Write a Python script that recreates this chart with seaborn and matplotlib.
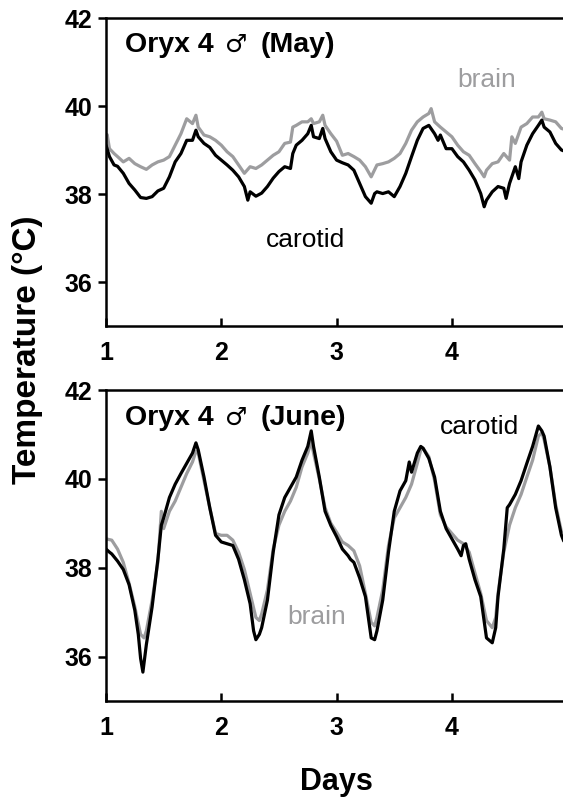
import numpy as np
import pandas as pd
import matplotlib
matplotlib.use("Agg")
import matplotlib.pyplot as plt
import matplotlib.transforms as mtransforms
import seaborn as sns

# ---------------- data ----------------
may_carotid_day = [1.00, 1.03, 1.07, 1.10, 1.15, 1.20, 1.25, 1.30, 1.35, 1.40, 1.45, 1.50, 1.55, 1.60,
                   1.65, 1.70, 1.75, 1.78, 1.80, 1.85, 1.90, 1.95, 2.00, 2.05, 2.10, 2.15, 2.20, 2.23,
                   2.25, 2.30, 2.35, 2.40, 2.45, 2.50, 2.55, 2.60, 2.62, 2.65, 2.70, 2.75, 2.78, 2.80,
                   2.85, 2.88, 2.90, 2.95, 3.00, 3.05, 3.10, 3.15, 3.20, 3.25, 3.30, 3.33, 3.35, 3.40,
                   3.45, 3.50, 3.55, 3.60, 3.65, 3.70, 3.75, 3.80, 3.85, 3.88, 3.90, 3.95, 4.00, 4.05,
                   4.10, 4.15, 4.20, 4.25, 4.28, 4.30, 4.35, 4.40, 4.45, 4.47, 4.50, 4.55, 4.58, 4.60,
                   4.65, 4.70, 4.75, 4.78, 4.80, 4.85, 4.90, 4.95, 5.00]
may_carotid_temp = [39.11, 38.85, 38.66, 38.63, 38.47, 38.24, 38.09, 37.92, 37.90, 37.94, 38.07, 38.13, 38.39, 38.73,
                    38.92, 39.22, 39.22, 39.45, 39.30, 39.15, 39.06, 38.88, 38.77, 38.66, 38.54, 38.39, 38.17, 37.86,
                    38.05, 37.95, 38.02, 38.17, 38.36, 38.51, 38.62, 38.58, 38.92, 39.11, 39.22, 39.37, 39.56, 39.30,
                    39.26, 39.49, 39.26, 38.96, 38.77, 38.71, 38.66, 38.54, 38.24, 37.94, 37.79, 38.01, 38.05, 38.01,
                    38.05, 37.94, 38.17, 38.47, 38.85, 39.22, 39.49, 39.56, 39.37, 39.22, 39.34, 39.03, 39.03, 38.85,
                    38.73, 38.54, 38.32, 38.01, 37.71, 37.86, 38.05, 38.17, 38.13, 37.90, 38.24, 38.62, 38.35, 38.73,
                    39.11, 39.37, 39.56, 39.68, 39.52, 39.41, 39.15, 39.00, 38.95]

may_brain_day = [1.00, 1.01, 1.03, 1.07, 1.10, 1.15, 1.20, 1.25, 1.30, 1.35, 1.40, 1.45, 1.50, 1.55, 1.60,
                 1.65, 1.70, 1.75, 1.78, 1.80, 1.85, 1.90, 1.95, 2.00, 2.05, 2.10, 2.15, 2.20, 2.25, 2.30,
                 2.35, 2.40, 2.45, 2.50, 2.55, 2.60, 2.62, 2.65, 2.70, 2.75, 2.78, 2.80, 2.85, 2.88, 2.90,
                 2.95, 3.00, 3.05, 3.10, 3.15, 3.20, 3.25, 3.30, 3.35, 3.40, 3.45, 3.50, 3.55, 3.60, 3.65,
                 3.70, 3.75, 3.80, 3.82, 3.85, 3.90, 3.95, 4.00, 4.05, 4.10, 4.15, 4.20, 4.25, 4.28, 4.30,
                 4.35, 4.40, 4.45, 4.50, 4.52, 4.55, 4.60, 4.65, 4.70, 4.75, 4.78, 4.80, 4.85, 4.90, 4.95, 5.00]
may_brain_temp = [39.22, 39.35, 39.03, 38.92, 38.85, 38.73, 38.81, 38.69, 38.62, 38.56, 38.66, 38.73, 38.77, 38.85, 39.11,
                  39.37, 39.71, 39.60, 39.79, 39.52, 39.34, 39.30, 39.22, 39.11, 38.96, 38.85, 38.66, 38.47, 38.62, 38.58,
                  38.66, 38.77, 38.88, 38.96, 39.15, 39.18, 39.52, 39.56, 39.64, 39.64, 39.71, 39.60, 39.64, 39.79, 39.56,
                  39.37, 39.20, 38.88, 38.92, 38.85, 38.77, 38.62, 38.39, 38.66, 38.69, 38.73, 38.81, 38.92, 39.15, 39.45,
                  39.64, 39.75, 39.83, 39.94, 39.64, 39.52, 39.41, 39.30, 39.11, 38.96, 38.88, 38.69, 38.51, 38.39, 38.54,
                  38.69, 38.73, 38.92, 38.77, 39.30, 39.15, 39.52, 39.60, 39.75, 39.75, 39.86, 39.71, 39.68, 39.64, 39.49, 39.45]

june_carotid_day = [1.00, 1.03, 1.05, 1.10, 1.15, 1.20, 1.25, 1.28, 1.30, 1.32, 1.35, 1.40, 1.45, 1.48, 1.50,
                    1.55, 1.60, 1.65, 1.70, 1.75, 1.78, 1.80, 1.85, 1.90, 1.95, 2.00, 2.05, 2.10, 2.15, 2.20,
                    2.25, 2.28, 2.30, 2.33, 2.35, 2.40, 2.45, 2.50, 2.55, 2.60, 2.65, 2.70, 2.75, 2.78, 2.80,
                    2.85, 2.90, 2.95, 3.00, 3.05, 3.10, 3.12, 3.15, 3.20, 3.25, 3.30, 3.33, 3.35, 3.40, 3.45,
                    3.50, 3.55, 3.60, 3.63, 3.65, 3.70, 3.73, 3.75, 3.80, 3.85, 3.90, 3.95, 4.00, 4.05, 4.08,
                    4.10, 4.12, 4.15, 4.20, 4.25, 4.30, 4.35, 4.38, 4.40, 4.45, 4.48, 4.50, 4.55, 4.60, 4.65,
                    4.70, 4.75, 4.78, 4.80, 4.85, 4.90, 4.95, 4.97]
june_carotid_temp = [38.42, 38.35, 38.31, 38.15, 37.96, 37.62, 37.04, 36.50, 35.96, 35.65, 36.27, 37.12, 38.19, 38.96, 39.12,
                     39.58, 39.88, 40.12, 40.35, 40.58, 40.81, 40.65, 40.04, 39.35, 38.73, 38.58, 38.54, 38.50, 38.19, 37.73,
                     37.19, 36.58, 36.38, 36.50, 36.65, 37.27, 38.35, 39.19, 39.58, 39.81, 40.04, 40.42, 40.73, 41.08, 40.73,
                     40.04, 39.27, 38.95, 38.70, 38.42, 38.27, 38.19, 38.12, 37.77, 37.35, 36.42, 36.38, 36.58, 37.27, 38.35,
                     39.27, 39.73, 39.96, 40.38, 40.15, 40.58, 40.73, 40.69, 40.46, 40.04, 39.27, 38.88, 38.65, 38.42, 38.27,
                     38.50, 38.54, 38.19, 37.73, 37.35, 36.42, 36.31, 36.65, 37.35, 38.42, 39.35, 39.42, 39.65, 39.96, 40.35,
                     40.73, 41.19, 41.08, 40.96, 40.27, 39.35, 38.73, 38.60]

june_brain_day = [1.00, 1.05, 1.10, 1.15, 1.20, 1.25, 1.30, 1.33, 1.35, 1.40, 1.45, 1.48, 1.50, 1.55, 1.60,
                  1.65, 1.70, 1.75, 1.78, 1.80, 1.85, 1.90, 1.95, 2.00, 2.05, 2.10, 2.15, 2.20, 2.25, 2.30,
                  2.33, 2.35, 2.40, 2.45, 2.50, 2.55, 2.60, 2.65, 2.70, 2.75, 2.78, 2.80, 2.85, 2.90, 2.95,
                  3.00, 3.05, 3.10, 3.15, 3.20, 3.25, 3.30, 3.33, 3.35, 3.40, 3.45, 3.50, 3.55, 3.60, 3.65,
                  3.70, 3.73, 3.75, 3.80, 3.85, 3.90, 3.95, 4.00, 4.05, 4.10, 4.15, 4.20, 4.25, 4.30, 4.35,
                  4.38, 4.40, 4.45, 4.50, 4.55, 4.60, 4.65, 4.70, 4.75, 4.78, 4.80, 4.85, 4.90, 4.95]
june_brain_temp = [38.65, 38.62, 38.42, 38.12, 37.65, 37.12, 36.50, 36.42, 36.58, 37.27, 38.12, 39.27, 38.88, 39.27, 39.50,
                   39.81, 40.12, 40.38, 40.62, 40.58, 39.96, 39.35, 38.77, 38.73, 38.73, 38.62, 38.35, 37.96, 37.42, 36.88,
                   36.81, 36.96, 37.50, 38.42, 38.96, 39.27, 39.50, 39.81, 40.27, 40.58, 40.85, 40.58, 40.00, 39.35, 39.00,
                   38.80, 38.58, 38.50, 38.38, 38.04, 37.42, 36.77, 36.69, 36.88, 37.50, 38.50, 39.12, 39.35, 39.58, 39.88,
                   40.35, 40.65, 40.69, 40.50, 39.96, 39.19, 38.92, 38.77, 38.62, 38.54, 38.35, 37.88, 37.42, 36.81, 36.65,
                   36.88, 37.42, 38.35, 38.96, 39.35, 39.65, 40.04, 40.42, 40.96, 41.04, 40.88, 40.27, 39.42, 38.81]

x_ticks = [1, 2, 3, 4]
y_ticks = [36, 38, 40, 42]
panel_months = ["May", "June"]

# ---------------- style ----------------
sns.set_style("ticks")
plt.rcParams['font.family'] = ['Liberation Sans', 'DejaVu Sans']
plt.rcParams['text.color'] = 'black'

BLACK = "#000000"
GREY = "#9d9d9f"

fig = plt.figure(figsize=(5.63, 8.0), dpi=100)
W = 461.2 / 563
ax1 = fig.add_axes([106 / 563, 1 - 326 / 800, W, 308 / 800])
ax2 = fig.add_axes([106 / 563, 1 - 701 / 800, W, 311 / 800])

def draw_panel(ax, bday, btemp, cday, ctemp):
    sns.lineplot(x=bday, y=btemp, ax=ax, color=GREY, lw=2.3, estimator=None, sort=False)
    sns.lineplot(x=cday, y=ctemp, ax=ax, color=BLACK, lw=2.3, estimator=None, sort=False)
    ax.set_xlim(1, 5)
    ax.set_ylim(35, 42)
    ax.set_xticks(x_ticks)
    ax.set_yticks(y_ticks)
    ax.set_xticklabels([str(t) for t in x_ticks])
    ax.set_yticklabels([str(t) for t in y_ticks])
    ax.set_xlabel("")
    ax.set_ylabel("")
    for s in ax.spines.values():
        s.set_linewidth(1.8)
        s.set_color(BLACK)
    ax.tick_params(axis='x', direction='in', length=6, width=1.8, pad=11,
                   labelsize=18, colors=BLACK)
    ax.tick_params(axis='y', direction='out', length=6, width=1.8, pad=4,
                   labelsize=18, colors=BLACK)
    for lab in ax.get_xticklabels() + ax.get_yticklabels():
        lab.set_fontweight('bold')

draw_panel(ax1, may_brain_day, may_brain_temp, may_carotid_day, may_carotid_temp)
draw_panel(ax2, june_brain_day, june_brain_temp, june_carotid_day, june_carotid_temp)

renderer = fig.canvas.get_renderer()

def panel_title(ax, month, x, y):
    parts = [("Oryx 4", dict(fontweight='bold', fontsize=20.5), 11),
             ("\u2642", dict(family='DejaVu Sans', fontweight='normal', fontsize=18), 14),
             ("(" + month + ")", dict(fontweight='bold', fontsize=20.5), 0)]
    xoff = 0.0
    for s, kw, gap in parts:
        tr = mtransforms.offset_copy(ax.transAxes, fig=fig, x=xoff, y=0, units='dots')
        t = ax.text(x, y, s, transform=tr, ha='left', va='baseline', color=BLACK, **kw)
        xoff += t.get_window_extent(renderer).width + gap

panel_title(ax1, panel_months[0], 19 / 461.2, 1 - 34 / 308)
panel_title(ax2, panel_months[1], 19 / 461.2, 1 - 35 / 311)

ax1.text(4.30, 40.59, "brain", color=GREY, fontsize=19, ha='center', va='center')
ax1.text(2.73, 36.95, "carotid", color=BLACK, fontsize=19, ha='center', va='center')
ax2.text(4.24, 41.17, "carotid", color=BLACK, fontsize=19, ha='center', va='center')
ax2.text(2.83, 36.89, "brain", color=GREY, fontsize=19, ha='center', va='center')

fig.text(28 / 563, 1 - 350 / 800, "Temperature (\u00b0C)", rotation=90, fontsize=24,
         fontweight='bold', ha='center', va='center', color=BLACK)
fig.text(336 / 563, 1 - 790 / 800, "Days", fontsize=22, fontweight='bold',
         ha='center', va='baseline', color=BLACK)

fig.savefig("out.png", dpi=100)
